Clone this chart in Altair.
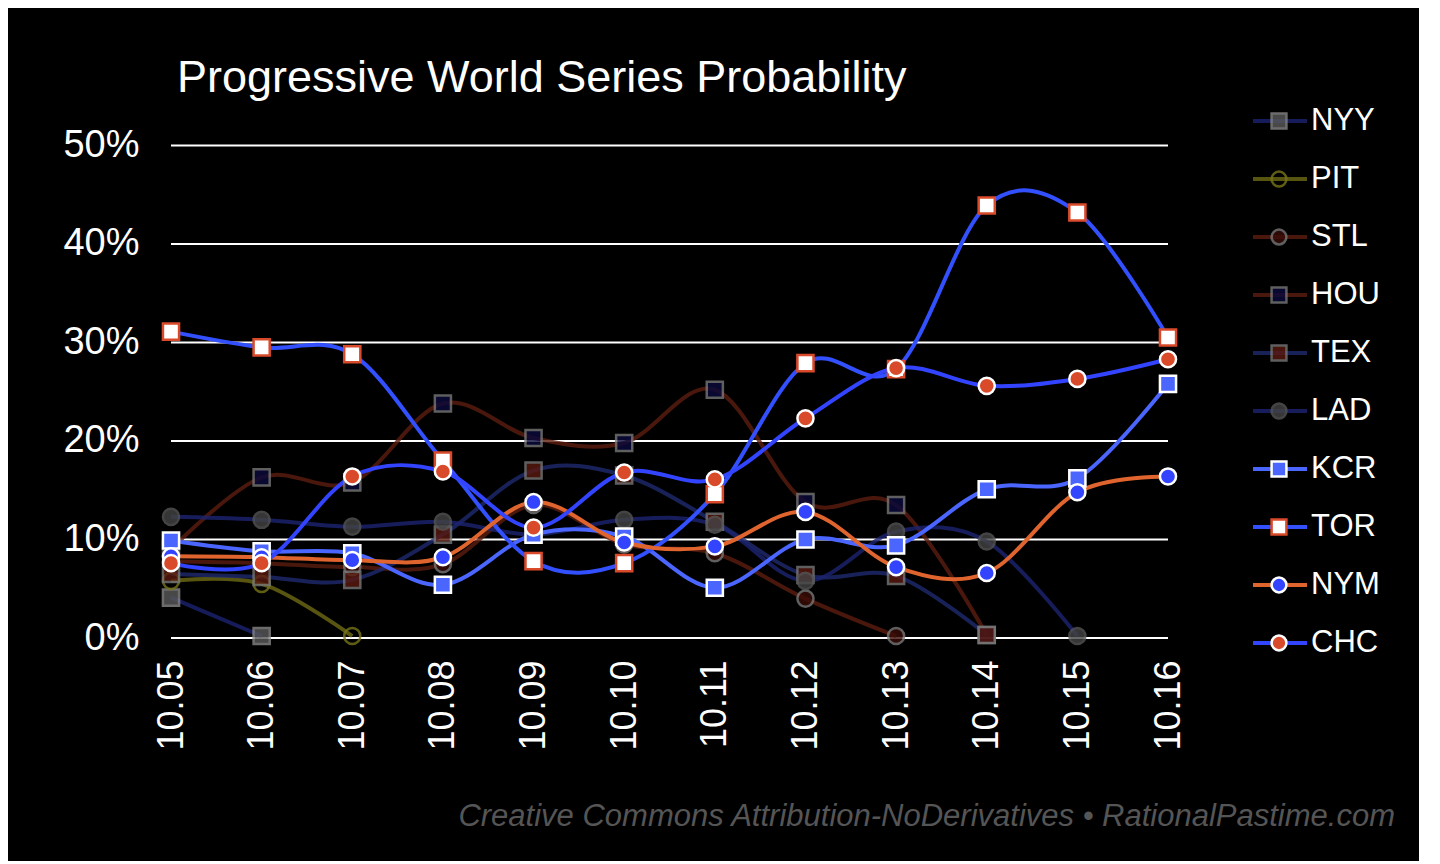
import altair as alt
import pandas as pd

dates = ["10.05", "10.06", "10.07", "10.08", "10.09", "10.10",
         "10.11", "10.12", "10.13", "10.14", "10.15", "10.16"]
teams = ["NYY", "PIT", "STL", "HOU", "TEX", "LAD", "KCR", "TOR", "NYM", "CHC"]

# world series probability in %, shorter list = eliminated
nyy = [4.1, 0.2]
pit = [5.8, 5.5, 0.2]
stl = [7.8, 7.6, 7.2, 7.5, 13.5, 9.5, 8.6, 4.0, 0.2]
hou = [9.0, 16.3, 15.8, 23.8, 20.3, 19.8, 25.2, 13.8, 13.5, 0.3]
tex = [6.5, 6.2, 5.9, 10.5, 17.0, 16.5, 11.8, 6.4, 6.3, 0.3]
lad = [12.3, 12.0, 11.3, 11.8, 10.5, 12.0, 11.5, 5.8, 10.8, 9.8, 0.2]
kcr = [9.9, 8.8, 8.6, 5.4, 10.5, 10.3, 5.1, 10.0, 9.4, 15.1, 16.2, 25.8]
tor = [31.1, 29.5, 28.8, 18.0, 7.8, 7.6, 14.6, 27.9, 27.3, 43.9, 43.2, 30.5]
nym = [8.3, 8.2, 7.9, 8.2, 13.8, 9.7, 9.3, 12.8, 7.2, 6.6, 14.8, 16.4]
chc = [7.6, 7.6, 16.4, 16.9, 11.2, 16.8, 16.1, 22.3, 27.4, 25.6, 26.3, 28.3]

series = [nyy, pit, stl, hou, tex, lad, kcr, tor, nym, chc]

# team: line colour, marker shape, fill, stroke, opacity
styles = {
    "NYY": ("#1b2270", "square", "#5a5a5a", "#888888", 0.8),
    "PIT": ("#6e6a14", "circle", "transparent", "#77741a", 0.8),
    "STL": ("#5c1d10", "circle", "#3a0d08", "#777777", 0.8),
    "HOU": ("#5c1d10", "square", "#0a0a3c", "#777777", 0.8),
    "TEX": ("#1f2a6e", "square", "#5a1a10", "#777777", 0.8),
    "LAD": ("#1b2470", "circle", "#444444", "#555555", 0.8),
    "KCR": ("#4a66ff", "square", "#4a66ff", "#ffffff", 1.0),
    "TOR": ("#3350ff", "square", "#ffffff", "#d94a2b", 1.0),
    "NYM": ("#e0642e", "circle", "#3344ff", "#ffffff", 1.0),
    "CHC": ("#3344ff", "circle", "#d94a2b", "#ffffff", 1.0),
}

font = "Liberation Sans"
x_scale = alt.Scale(domain=dates, type="point", padding=0)
y_scale = alt.Scale(domain=[0, 53.6], nice=False)

layers = []
for team, vals in zip(teams, series):
    line_c, shape, fill, stroke, op = styles[team]
    df = pd.DataFrame({"date": dates[:len(vals)], "p": vals, "team": team})
    base = alt.Chart(df).encode(
        x=alt.X("date:O", scale=x_scale),
        y=alt.Y("p:Q", scale=y_scale),
    )
    layers.append(base.mark_line(interpolate="cardinal", color=line_c,
                                 strokeWidth=4, opacity=op))
for team, vals in zip(teams, series):
    line_c, shape, fill, stroke, op = styles[team]
    df = pd.DataFrame({"date": dates[:len(vals)], "p": vals, "team": team})
    layers.append(alt.Chart(df).mark_point(
        shape=shape, size=260, filled=fill != "transparent", fill=fill,
        stroke=stroke, strokeWidth=2.5, opacity=op,
    ).encode(x=alt.X("date:O", scale=x_scale), y=alt.Y("p:Q", scale=y_scale)))

axes = alt.Chart(pd.DataFrame({"date": dates})).mark_point(opacity=0).encode(
    x=alt.X("date:O", scale=x_scale, title=None,
            axis=alt.Axis(labelAngle=270, labelAlign="right", labelBaseline="middle",
                          labelFontSize=36, labelColor="white", labelFont=font,
                          domain=False, ticks=False, labelPadding=22)),
    y=alt.value(0),
)
grid = alt.Chart(pd.DataFrame({"p": [0, 10, 20, 30, 40, 50]})).mark_rule(
    color="white", strokeWidth=2
).encode(
    y=alt.Y("p:Q", scale=y_scale, title=None,
            axis=alt.Axis(values=[0, 10, 20, 30, 40, 50], labelExpr="datum.value + '%'",
                          labelFontSize=38, labelColor="white", labelFont=font,
                          domain=False, ticks=False, grid=False, labelPadding=32)),
)

main = alt.layer(grid, axes, *layers).properties(
    width=997, height=528,
    title=alt.TitleParams("Progressive World Series Probability", anchor="start",
                          fontSize=45, font=font, color="white", fontWeight="normal",
                          offset=6, dx=114),
)

# legend drawn as its own small chart
leg_df = pd.DataFrame({"team": teams, "i": list(range(len(teams)))})
ly = alt.Y("i:Q", scale=alt.Scale(domain=[-0.19, 8.914], reverse=True, nice=False),
           axis=None)
leg_layers = []
for team in teams:
    line_c, shape, fill, stroke, op = styles[team]
    d = leg_df[leg_df.team == team]
    leg_layers.append(alt.Chart(d).mark_rule(color=line_c, strokeWidth=4, opacity=op).encode(
        x=alt.value(8), x2=alt.value(62), y=ly))
    leg_layers.append(alt.Chart(d).mark_point(
        shape=shape, size=220, filled=fill != "transparent", fill=fill,
        stroke=stroke, strokeWidth=2.5, opacity=op).encode(x=alt.value(34), y=ly))
leg_layers.append(alt.Chart(leg_df).mark_text(
    align="left", baseline="middle", fontSize=31, font=font, color="white", dx=0
).encode(x=alt.value(66), y=ly, text="team:N"))
legend = alt.layer(*leg_layers).properties(width=150, height=528)

chart = alt.hconcat(main, legend, spacing=58).properties(
    title=alt.TitleParams("Creative Commons Attribution-NoDerivatives • RationalPastime.com",
                          orient="bottom", anchor="end", fontSize=31, font=font,
                          fontStyle="italic", fontWeight="normal", color="#555555",
                          offset=52),
    padding={"left": 54, "top": 48, "right": 24, "bottom": 28},
).configure(background="black").configure_view(stroke=None)

chart.save("out.html", embed_options={"renderer": "svg", "actions": False})
